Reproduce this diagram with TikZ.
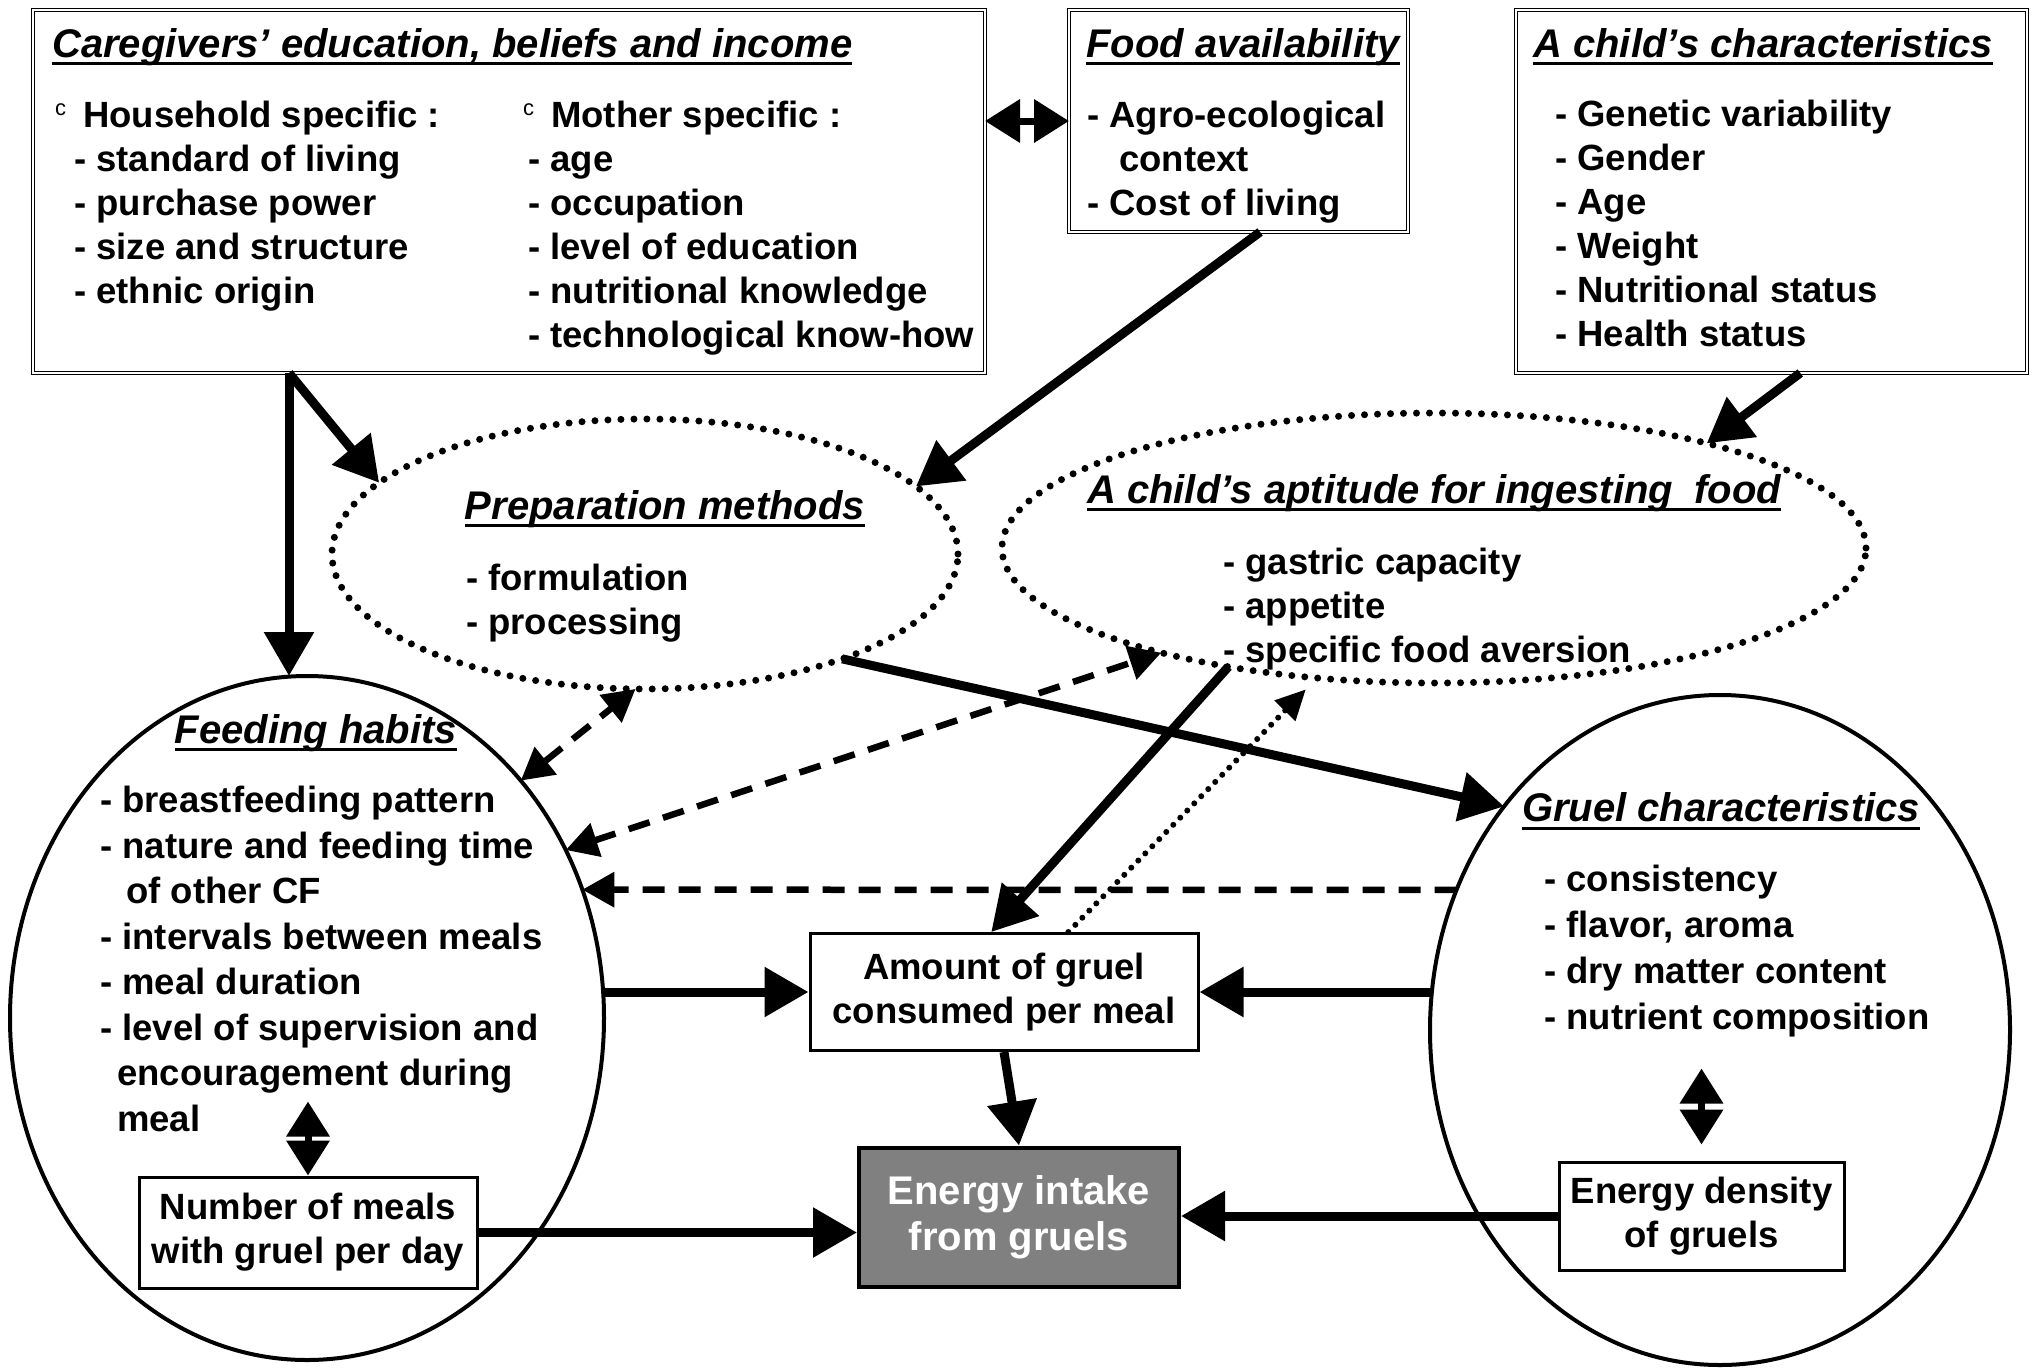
\documentclass[tikz,border=0pt]{standalone}
\usepackage{fontspec}
\setmainfont{Liberation Sans}
\usetikzlibrary{shapes.geometric,arrows.meta,calc}

\newsavebox\hdbox
\newcommand{\hd}[1]{\sbox\hdbox{#1}\rlap{\rule[-8pt]{\wd\hdbox}{3pt}}\usebox\hdbox}
\newcommand{\bul}{\raisebox{12pt}{\fontsize{22}{22}\selectfont\mdseries c}\hspace{17pt}}

\begin{document}
\begin{tikzpicture}[x = 1pt, y = -1pt,
	frame/.style = {draw, line width=1.5pt, double distance=1.3pt, inner sep=0, outer sep=0, anchor=north west},
	smallbox/.style = {draw, line width=3pt, fill=white, inner sep=0, align=center, font=\fontsize{36.5}{44}\selectfont\bfseries},
	oval/.style = {ellipse, draw, line width=4pt, inner sep=0, outer sep=0},
	dotoval/.style = {ellipse, draw, line width=7pt, dash pattern=on 0pt off 13pt, line cap=round, inner sep=0, outer sep=0},
	title/.style = {inner sep=0, font=\fontsize{40}{44}\selectfont\bfseries\itshape},
	items/.style = {inner sep=0, anchor=north west, align=left, font=\fontsize{36.5}{44}\selectfont\bfseries},
	thk/.style = {line width=9pt, -{Triangle[length=44pt,width=48pt]}},
	dsh/.style = {line width=6.5pt, dash pattern=on 22pt off 14pt, -{Triangle[length=32pt,width=34pt]}},
	dsh2/.style = {dsh, {Triangle[length=32pt,width=34pt]}-{Triangle[length=32pt,width=34pt]}},
	dts/.style = {line width=6pt, dash pattern=on 0pt off 10pt, line cap=round, -{Triangle[length=30pt,width=28pt]}},
	twoway/.style = {line width=7pt, {Triangle[length=35pt,width=42pt]}-{Triangle[length=35pt,width=42pt]}}]
	\useasboundingbox (0,0) rectangle (2040,1368);

	% top boxes
	\node[frame, minimum width=952pt, minimum height=363pt] (care) at (33,10) {};
	\node[frame, minimum width=339pt, minimum height=222pt] (food) at (1069,10) {};
	\node[frame, minimum width=511pt, minimum height=363pt] (child) at (1516,10) {};

	% ovals
	\node[dotoval, minimum width=626pt, minimum height=270pt] (prep) at (645,554) {};
	\node[dotoval, minimum width=864pt, minimum height=270pt] (apt) at (1434,548) {};
	\node[oval, minimum width=594pt, minimum height=684pt] (feed) at (307,1018) {};
	\node[oval, minimum width=580pt, minimum height=670pt] (gruel) at (1720,1030) {};

	% small boxes
	\node[smallbox, minimum width=388pt, minimum height=117pt] (amount) at (1004,992) {Amount of gruel\\consumed per meal};
	\node[smallbox, minimum width=320pt, minimum height=139pt, line width=4pt, fill=black!50, text=white, font=\fontsize{40}{46}\selectfont\bfseries] (energy) at (1019,1217) {Energy intake\\from gruels};
	\node[smallbox, minimum width=338pt, minimum height=111pt] (number) at (308,1232.5) {Number of meals\\with gruel per day};
	\node[smallbox, minimum width=285pt, minimum height=108pt] (density) at (1701.5,1216) {Energy density\\of gruels};

	% texts
	\node[title, anchor=west] (caret) at (52,47) {\hd{Caregivers’ education, beliefs and income}};
	\node[items] (house) at (55,101) {\bul Household specific :\\
		\hspace*{19pt}- standard of living\\
		\hspace*{19pt}- purchase power\\
		\hspace*{19pt}- size and structure\\
		\hspace*{19pt}- ethnic origin};
	\node[items] (mother) at (523,101) {\bul Mother specific :\\
		\hspace*{5pt}- age\\
		\hspace*{5pt}- occupation\\
		\hspace*{5pt}- level of education\\
		\hspace*{5pt}- nutritional knowledge\\
		\hspace*{5pt}- technological know-how};
	\node[title] (foodt) at (1243,47) {\hd{Food availability}};
	\node[items] (foodl) at (1087,101) {- Agro-ecological\\ \hspace*{32pt}context\\ - Cost of living};
	\node[title] (childt) at (1763,47) {\hd{A child’s characteristics}};
	\node[items] (childl) at (1555,100) {- Genetic variability\\ - Gender\\ - Age\\ - Weight\\ - Nutritional status\\ - Health status};
	\node[title] (prept) at (665,509) {\hd{Preparation methods}};
	\node[items] (prepl) at (466,564) {- formulation\\ - processing};
	\node[title] (aptt) at (1434,493) {\hd{A child’s aptitude for ingesting\hspace{10pt} food}};
	\node[items] (aptl) at (1223,548) {- gastric capacity\\ - appetite\\ - specific food aversion};
	\node[title] (feedt) at (316,733) {\hd{Feeding habits}};
	\node[items, font=\fontsize{36.5}{45.5}\selectfont\bfseries] (feedl) at (100,786) {- breastfeeding pattern\\
		- nature and feeding time\\
		\hspace*{26pt}of other CF\\
		- intervals between meals\\
		- meal duration\\
		- level of supervision and\\
		\hspace*{17pt}encouragement during\\
		\hspace*{17pt}meal};
	\node[title] (gruelt) at (1721,811) {\hd{Gruel characteristics}};
	\node[items, font=\fontsize{36.5}{46}\selectfont\bfseries] (gruell) at (1544,865) {- consistency\\ - flavor, aroma\\ - dry matter content\\ - nutrient composition};

	% arrows
	\coordinate (fork) at ($(care.south west)+(256,0)$);
	\draw[thk] (fork) -- (fork |- feed.north);
	\draw[thk] (fork) -- (prep.165);
	\draw[thk] (food.-79) -- (prep.14);
	\draw[thk] (child.-81) -- (apt.21);
	\draw[thk] (prep.-28) -- (gruel.134);
	\draw[thk] (apt.-150) -- (amount.102);
	\draw[dts, shorten >=16pt] (amount.43) -- (apt.-132);
	\draw[dsh2] (feed.48) -- (prep.-94);
	\draw[dsh2] (feed.33) -- (apt.-159);
	\draw[dsh] (gruel.152) -- (feed.25);
	\draw[thk] (amount.west -| feed.east) -- (amount.west);
	\draw[thk] (amount.east -| gruel.west) -- (amount.east);
	\draw[thk] (amount.south) -- (energy.north);
	\draw[thk] (number.east) -- (number.east -| energy.west);
	\draw[thk] (density.west) -- (density.west -| energy.east);
	\draw[twoway] (care.east |- food.west) -- (food.west);
	\draw[twoway] (number.north) -- ++(0,-74);
	\draw[twoway, shorten <=16pt] (density.north) -- ++(0,-92);
\end{tikzpicture}
\end{document}
